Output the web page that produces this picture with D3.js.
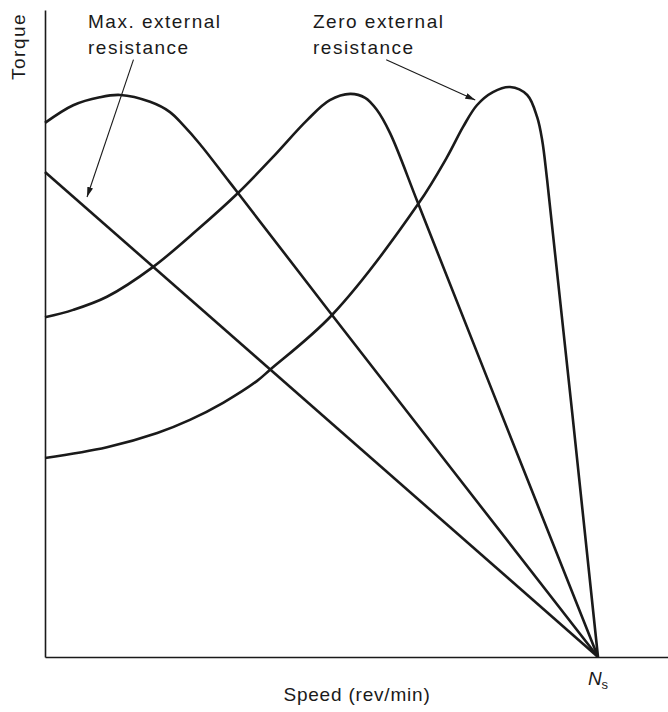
<!DOCTYPE html>
<html>
<head>
<meta charset="utf-8">
<script src="https://cdn.jsdelivr.net/npm/d3@7"></script>
<style>
  html, body { margin: 0; padding: 0; background: #fff; }
  svg text { font-family: "Liberation Sans", Arial, Helvetica, sans-serif; fill: #1a1a1a; }
</style>
</head>
<body>
<svg id="chart" width="668" height="712"></svg>
<script>
// Speed as % of synchronous speed Ns, torque as % of the highest peak torque.
const maxResistanceSpeed  = [0, 100];
const maxResistanceTorque = [85.1, 0];

const highResistanceSpeed  = [0, 5.1, 9.9, 13.6, 19.0, 22.6, 25.0, 28.0, 32.9, 34.9, 51.9, 100];
const highResistanceTorque = [93.7, 96.8, 98.2, 98.6, 97.4, 95.6, 93.3, 90.0, 83.9, 81.4, 60.0, 0];

const midResistanceSpeed  = [0, 5.1, 11.2, 19.5, 27.5, 34.9, 41.2, 47.4, 51.5, 55.2, 57.9, 60.0, 62.4, 67.5, 79.9, 100];
const midResistanceTorque = [59.6, 60.9, 63.2, 68.4, 74.9, 81.4, 87.7, 94.2, 97.7, 98.8, 98.1, 96.0, 91.9, 79.5, 49.1, 0];

const zeroResistanceSpeed  = [0, 11.2, 20.3, 26.2, 32.2, 38.3, 40.7, 51.9, 67.5, 72.7, 75.6, 78.1, 81.0, 84.1, 87.2, 89.0, 89.9, 90.8, 100];
const zeroResistanceTorque = [34.9, 36.8, 39.3, 41.6, 44.6, 48.4, 50.4, 60.0, 79.5, 87.7, 93.0, 96.8, 99.1, 100, 98.6, 94.7, 90.7, 83.7, 0];

// Annotations: label lines, arrow start and arrow tip in data units
const annotationLabels = [["Max. external", "resistance"], ["Zero external", "resistance"]];
const annotationStart  = [[16.0, 104.8], [61.7, 104.8]];
const annotationTip    = [[7.6, 80.7], [77.8, 97.7]];

const xAxisTitle = "Speed (rev/min)";
const yAxisTitle = "Torque";
const syncSpeedLabel = ["N", "s"];
const syncSpeed = 100;

const svg = d3.select("#chart");
const ink = "#1a1a1a";

const x = d3.scaleLinear().domain([0, 100]).range([45, 598]);
const y = d3.scaleLinear().domain([0, 100]).range([657, 87]);

// Axes: plain lines without ticks, running past the plotted range
const xAxisScale = x.copy().domain([0, 112.6]).range([45, 668]);
const yAxisScale = y.copy().domain([0, 113.5]).range([657, 10]);
svg.append("g").attr("transform", `translate(0,${y(0)})`)
  .call(d3.axisBottom(xAxisScale).tickValues([]).tickSizeOuter(0))
  .call(g => g.select(".domain").attr("stroke", ink).attr("stroke-width", 1.6));
svg.append("g").attr("transform", `translate(${x(0)},0)`)
  .call(d3.axisLeft(yAxisScale).tickValues([]).tickSizeOuter(0))
  .call(g => g.select(".domain").attr("stroke", ink).attr("stroke-width", 1.6));

// Torque-speed curves
const curves = [
  [maxResistanceSpeed, maxResistanceTorque],
  [highResistanceSpeed, highResistanceTorque],
  [midResistanceSpeed, midResistanceTorque],
  [zeroResistanceSpeed, zeroResistanceTorque]
];
const line = d3.line()
  .x(d => x(d[0]))
  .y(d => y(d[1]))
  .curve(d3.curveCatmullRom.alpha(0.5));

svg.append("g").selectAll("path")
  .data(curves.map(([s, t]) => s.map((v, i) => [v, t[i]])))
  .join("path")
  .attr("d", line)
  .attr("fill", "none")
  .attr("stroke", ink)
  .attr("stroke-width", 2.6)
  .attr("stroke-linejoin", "round");

// Arrowhead marker
svg.append("defs").append("marker")
  .attr("id", "arrowhead")
  .attr("viewBox", "0 0 10 6")
  .attr("refX", 10).attr("refY", 3)
  .attr("markerWidth", 10).attr("markerHeight", 6)
  .attr("markerUnits", "userSpaceOnUse")
  .attr("orient", "auto")
  .append("path")
  .attr("d", "M0,0 L10,3 L0,6 Z")
  .attr("fill", ink);

const ann = svg.append("g");
annotationLabels.forEach((lines, i) => {
  const [s0, t0] = annotationStart[i];
  const [s1, t1] = annotationTip[i];
  ann.append("line")
    .attr("x1", x(s0)).attr("y1", y(t0))
    .attr("x2", x(s1)).attr("y2", y(t1))
    .attr("stroke", ink).attr("stroke-width", 1.1)
    .attr("marker-end", "url(#arrowhead)");
});

// Label text blocks
const labelX = [88, 313];
annotationLabels.forEach((lines, i) => {
  const t = ann.append("text")
    .attr("x", labelX[i]).attr("y", 28)
    .attr("font-size", 19).attr("letter-spacing", 1.5);
  lines.forEach((l, j) => {
    t.append("tspan").attr("x", labelX[i]).attr("dy", j === 0 ? 0 : 26).text(l);
  });
});

// Axis titles
svg.append("text")
  .attr("transform", `translate(25,80) rotate(-90)`)
  .attr("font-size", 19).attr("letter-spacing", 1.5)
  .text(yAxisTitle);

svg.append("text")
  .attr("x", 357).attr("y", 701)
  .attr("text-anchor", "middle")
  .attr("font-size", 19).attr("letter-spacing", 0.8)
  .text(xAxisTitle);

// Synchronous speed marker label
const ns = svg.append("text")
  .attr("x", x(syncSpeed)).attr("y", 685)
  .attr("text-anchor", "middle")
  .attr("font-size", 19);
ns.append("tspan").attr("font-style", "italic").text(syncSpeedLabel[0]);
ns.append("tspan").attr("font-size", 13).attr("dy", 4).text(syncSpeedLabel[1]);
</script>
</body>
</html>
